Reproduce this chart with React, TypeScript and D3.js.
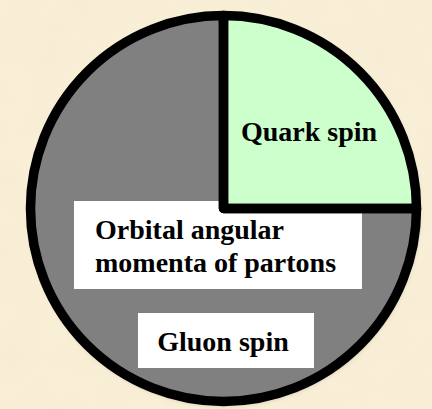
import React from "react";
import * as d3 from "d3";

const categories = ["Quark spin", "Gluon spin + orbital angular momenta"];
const values = [25, 75];
const colors = ["#ccffcc", "#808080"];
const quarkLabel = ["Quark spin"];
const orbitalLabel = ["Orbital angular", "momenta of partons"];
const gluonLabel = ["Gluon spin"];

const W = 432;
const H = 409;
const cx = 223.5;
const cy = 208.5;
const R = 193;

export default function App() {
  const pie = d3.pie<number>().sort(null).startAngle(0).endAngle(2 * Math.PI);
  const arcs = pie(values);
  const arcGen = d3.arc<d3.PieArcDatum<number>>().innerRadius(0).outerRadius(R);
  const font = "'Liberation Serif', 'Times New Roman', serif";
  return (
    <svg
      width={W}
      height={H}
      style={{ position: "fixed", left: 0, top: 0, display: "block" }}
    >
      <defs>
        <filter id="paper" x="0" y="0" width="100%" height="100%">
          <feTurbulence type="fractalNoise" baseFrequency="0.03" numOctaves="4" seed="5" result="n" />
          <feColorMatrix
            in="n"
            type="matrix"
            values="0 0 0 0 0.86  0 0 0 0 0.76  0 0 0 0 0.56  0 0 0 0.5 -0.05"
          />
        </filter>
        <filter id="shadow" x="-10%" y="-10%" width="120%" height="120%">
          <feDropShadow dx="1" dy="2" stdDeviation="3" floodColor="#000" floodOpacity="0.35" />
        </filter>
      </defs>
      <rect x={0} y={0} width={W} height={H} fill="#faefd8" />
      <rect x={0} y={0} width={W} height={H} filter="url(#paper)" opacity={0.55} />
      <g transform={`translate(${cx},${cy})`}>
        <circle r={R} fill="#000" filter="url(#shadow)" />
        <path d={arcGen(arcs[1]) || ""} fill={colors[1]} />
      </g>
      <rect x={74} y={201} width={288} height={88} fill="#ffffff" />
      <g transform={`translate(${cx},${cy})`}>
        <path d={arcGen(arcs[0]) || ""} fill={colors[0]} />
        {arcs.map((a, i) => (
          <path
            key={categories[i]}
            d={arcGen(a) || ""}
            fill="none"
            stroke="#000"
            strokeWidth={9.5}
            strokeLinejoin="round"
          />
        ))}
      </g>
      <rect x={138} y={313} width={176} height={55} fill="#ffffff" />
      <g fontFamily={font} fontWeight="bold" fontSize={28} fill="#000">
        <text x={309} y={141} textAnchor="middle">{quarkLabel[0]}</text>
        <text x={95} y={239}>{orbitalLabel[0]}</text>
        <text x={95} y={272}>{orbitalLabel[1]}</text>
        <text x={223} y={350.5} textAnchor="middle">{gluonLabel[0]}</text>
      </g>
    </svg>
  );
}
